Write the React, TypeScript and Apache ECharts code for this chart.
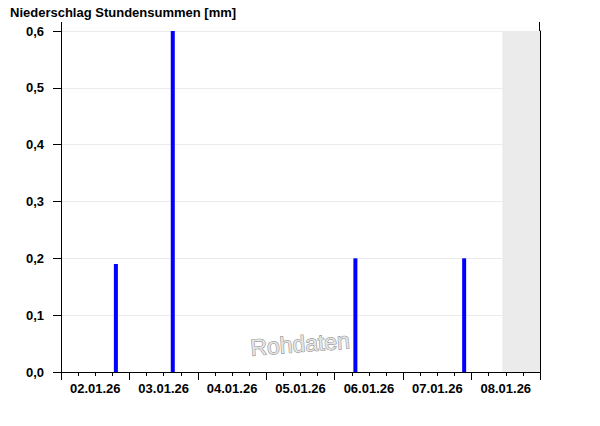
import React, { useEffect, useRef } from "react";
import * as echarts from "echarts";

const dayLabels = ["02.01.26", "03.01.26", "04.01.26", "05.01.26", "06.01.26", "07.01.26", "08.01.26"];
const barTimes = ["02.01.26 19:15", "03.01.26 15:12", "06.01.26 07:15", "07.01.26 21:24"];
const barValues = [0.19, 0.6, 0.2, 0.2];
const rangeStart = "02.01.26 00:00";
const rangeEnd = "09.01.26 00:00";
const nowTime = "08.01.26 10:48";
const yTicks = [0, 0.1, 0.2, 0.3, 0.4, 0.5, 0.6];

function parseTime(s: string): number {
  const [d, t] = s.split(" ");
  const [dd, mm, yy] = d.split(".").map(Number);
  const [hh, mi] = t.split(":").map(Number);
  return Date.UTC(2000 + yy, mm - 1, dd, hh, mi);
}

const FONT = "Liberation Sans, Arial, sans-serif";

export default function App() {
  const ref = useRef<HTMLDivElement>(null);
  useEffect(() => {
    if (!ref.current) return;
    const chart = echarts.init(ref.current, undefined, { renderer: "svg" });
    const minT = parseTime(rangeStart);
    const maxT = parseTime(rangeEnd);
    const nowT = parseTime(nowTime);
    const gl = 61, gr = 540, gt = 31, gb = 372;
    chart.setOption({
      animation: false,
      title: {
        text: "Niederschlag Stundensummen [mm]",
        left: 5,
        top: 1,
        textStyle: { fontFamily: FONT, fontSize: 13, fontWeight: "bold", color: "#000" },
      },
      grid: { left: gl, right: 600 - gr, top: gt, bottom: 426 - gb, containLabel: false },
      xAxis: [
        {
          type: "value",
          min: minT,
          max: maxT,
          interval: 86400000,
          axisLine: { show: true, lineStyle: { color: "#000", width: 1 } },
          axisTick: { show: true, inside: false, length: 8, lineStyle: { color: "#000" } },
          minorTick: { show: true, splitNumber: 4, length: 4, lineStyle: { color: "#000" } },
          axisLabel: { show: false },
          splitLine: { show: false },
          minorSplitLine: { show: false },
        },
        {
          type: "category",
          data: dayLabels,
          position: "bottom",
          boundaryGap: true,
          axisLine: { show: false },
          axisTick: { show: false },
          splitLine: { show: false },
          axisLabel: {
            margin: 10,
            fontFamily: FONT,
            fontSize: 13,
            fontWeight: "bold",
            color: "#000",
            interval: 0,
          },
        },
      ],
      yAxis: [
        {
          type: "value",
          min: yTicks[0],
          max: yTicks[yTicks.length - 1],
          interval: 0.1,
          axisLine: { show: true, lineStyle: { color: "#000", width: 1 } },
          axisTick: { show: true, inside: false, length: 8, lineStyle: { color: "#000" } },
          axisLabel: {
            margin: 17,
            fontFamily: FONT,
            fontSize: 13,
            fontWeight: "bold",
            color: "#000",
            formatter: (v: number) => v.toFixed(1).replace(".", ","),
          },
          splitLine: { show: true, lineStyle: { color: "#ebebeb", width: 1 } },
        },
        {
          type: "value",
          position: "right",
          min: 0,
          max: 0.6,
          interval: 0.1,
          axisLine: { show: true, lineStyle: { color: "#000", width: 1 } },
          axisTick: { show: false },
          axisLabel: { show: false },
          splitLine: { show: false },
        },
      ],
      series: [
        {
          type: "bar",
          xAxisIndex: 0,
          yAxisIndex: 0,
          barWidth: 4,
          data: barTimes.map((t, i) => [parseTime(t), barValues[i]]),
          itemStyle: { color: "#0000ff" },
          markArea: {
            silent: true,
            itemStyle: { color: "#ebebeb" },
            data: [[{ xAxis: nowT }, { xAxis: maxT }]],
          },
          z: 3,
        },
      ],
      graphic: [
        {
          type: "line",
          shape: { x1: gl + 0.5, y1: 22, x2: gl + 0.5, y2: gt },
          style: { stroke: "#000", lineWidth: 1 },
        },
        {
          type: "line",
          shape: { x1: gr - 0.5, y1: 22, x2: gr - 0.5, y2: gt },
          style: { stroke: "#000", lineWidth: 1 },
        },
        {
          type: "text",
          x: 300,
          y: 344,
          rotation: 0.075,
          z: 10,
          style: {
            text: "Rohdaten",
            fontFamily: FONT,
            fontSize: 23,
            fill: "#e4e4e4",
            stroke: "#858585",
            lineWidth: 1,
            align: "center",
            verticalAlign: "middle",
          },
        },
      ],
    });
    return () => chart.dispose();
  }, []);
  return <div ref={ref} style={{ width: 600, height: 426, position: "absolute", left: 0, top: 0 }} />;
}
